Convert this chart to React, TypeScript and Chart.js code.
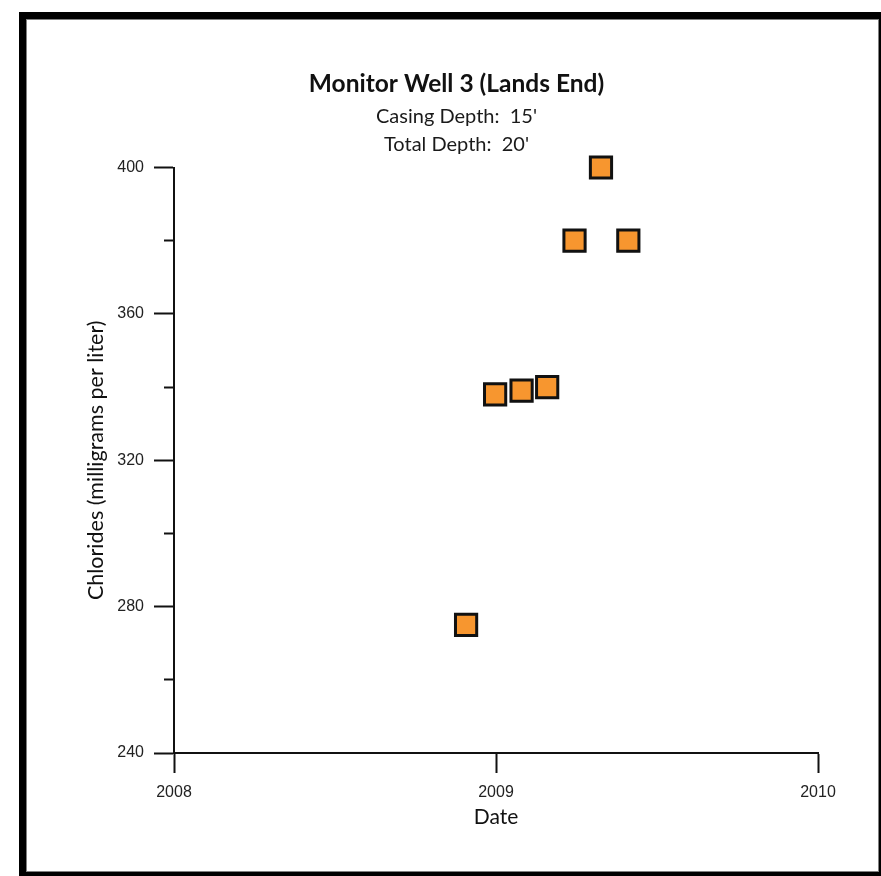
import React, { useEffect, useRef } from "react";
import { Chart, registerables } from "chart.js";

Chart.register(...registerables);

// ---- data ----
const sampleDates = ["2008-11-28", "2008-12-31", "2009-01-30", "2009-02-28", "2009-03-31", "2009-04-30", "2009-05-31"];
const chlorides = [275, 338, 339, 340, 380, 400, 380];
const xTickYears = [2008, 2009, 2010];
const yMajorTicks = [240, 280, 320, 360, 400];
const yMinorTicks = [260, 300, 340, 380];
const titleText = "Monitor Well 3 (Lands End)";
const subtitleLines = ["Casing Depth:  15'", "Total Depth:  20'"];
const xAxisTitle = "Date";
const yAxisTitle = "Chlorides (milligrams per liter)";

function toDecimalYear(iso: string): number {
  const [y, m, d] = iso.split("-").map(Number);
  const start = Date.UTC(y, 0, 1);
  const end = Date.UTC(y + 1, 0, 1);
  return y + (Date.UTC(y, m - 1, d) - start) / (end - start);
}

export default function App() {
  const canvasRef = useRef<HTMLCanvasElement | null>(null);

  useEffect(() => {
    const canvas = canvasRef.current;
    if (!canvas) return;
    const points = sampleDates.map((d, i) => ({ x: toDecimalYear(d), y: chlorides[i] }));
    const axisFont = { family: "'Liberation Sans', Arial, sans-serif", size: 16 };
    const titleFamily = "Lato, 'Open Sans', sans-serif";

    const chart = new Chart(canvas, {
      type: "scatter",
      data: {
        datasets: [
          {
            data: points,
            pointStyle: "rect",
            pointRadius: 15,
            pointHoverRadius: 15,
            pointBorderWidth: 3,
            pointHoverBorderWidth: 3,
            borderColor: "#111111",
            backgroundColor: "#F7962F",
            pointBackgroundColor: "#F7962F",
            pointBorderColor: "#111111",
            showLine: false,
            clip: false,
          } as any,
        ],
      },
      options: {
        responsive: false,
        animation: false,
        events: [],
        layout: { padding: { top: 0, left: 32, right: 0, bottom: 0 } },
        plugins: {
          legend: { display: false },
          tooltip: { enabled: false },
          title: {
            display: true,
            text: titleText,
            color: "#111111",
            font: { family: titleFamily, size: 24.5, weight: "bold", lineHeight: 1.2 },
            padding: { top: 69.3, bottom: 0 },
          },
          subtitle: {
            display: true,
            text: subtitleLines,
            color: "#1a1a1a",
            font: { family: titleFamily, size: 20, lineHeight: 1.4 },
            padding: { top: 3.8, bottom: 9 },
          },
        },
        scales: {
          x: {
            type: "linear",
            position: "bottom",
            min: 2008,
            max: 2010,
            afterBuildTicks: (s: any) => {
              s.ticks = xTickYears.map((v) => ({ value: v }));
            },
            afterFit: (s: any) => {
              s.height = 123;
            },
            grid: {
              drawOnChartArea: false,
              drawTicks: true,
              tickLength: 20,
              tickWidth: 2,
              tickColor: "#111111",
              color: "#111111",
            },
            border: { display: true, color: "#111111", width: 2 },
            ticks: {
              padding: 10,
              color: "#222222",
              font: axisFont,
              maxRotation: 0,
              callback: (v: any) => String(v),
            },
            title: {
              display: true,
              text: xAxisTitle,
              color: "#111111",
              font: { family: titleFamily, size: 21, lineHeight: 1.2 },
              padding: { top: 0, bottom: 46.4 },
            },
          },
          y: {
            type: "linear",
            position: "left",
            weight: 1,
            min: 240,
            max: 400,
            afterBuildTicks: (s: any) => {
              s.ticks = yMajorTicks.map((v) => ({ value: v }));
            },
            afterFit: (s: any) => {
              s.width = 142;
            },
            grid: {
              drawOnChartArea: false,
              drawTicks: true,
              tickLength: 20,
              tickWidth: 2,
              tickColor: "#111111",
              color: "#111111",
            },
            border: { display: true, color: "#111111", width: 2 },
            ticks: {
              padding: 10,
              color: "#222222",
              font: axisFont,
              callback: (v: any) => String(v),
            },
            title: {
              display: true,
              text: yAxisTitle,
              color: "#111111",
              font: { family: titleFamily, size: 21.5, lineHeight: 1.2 },
              padding: { top: 51.1, bottom: 0 },
            },
          },
          y2: {
            type: "linear",
            position: "left",
            weight: 0,
            min: 240,
            max: 400,
            afterBuildTicks: (s: any) => {
              s.ticks = yMinorTicks.map((v) => ({ value: v }));
            },
            afterFit: (s: any) => {
              s.width = 0;
            },
            grid: {
              drawOnChartArea: false,
              drawTicks: true,
              tickLength: 10,
              tickWidth: 2,
              tickColor: "#111111",
              color: "#111111",
            },
            border: { display: false },
            ticks: { display: false },
            title: { display: false },
          },
          yRightSpace: {
            type: "linear",
            position: "right",
            min: 240,
            max: 400,
            afterFit: (s: any) => {
              s.width = 63;
            },
            grid: { drawOnChartArea: false, drawTicks: false },
            border: { display: false },
            ticks: { display: false },
            title: { display: false },
          },
        },
      } as any,
    });

    return () => {
      chart.destroy();
    };
  }, []);

  return (
    <div style={{ position: "absolute", left: 0, top: 0, width: 881, height: 876, background: "#ffffff", overflow: "hidden" }}>
      <canvas ref={canvasRef} width={881} height={876} style={{ display: "block", width: 881, height: 876 }} />
      <div
        style={{
          position: "absolute",
          left: 19,
          top: 12,
          width: 862,
          height: 864,
          boxSizing: "border-box",
          borderTop: "7px solid #000",
          borderLeft: "7px solid #000",
          borderRight: "2px solid #000",
          borderBottom: "4px solid #000",
          boxShadow: "inset 0 0 0 1px #808080",
          pointerEvents: "none",
        }}
      />
    </div>
  );
}
